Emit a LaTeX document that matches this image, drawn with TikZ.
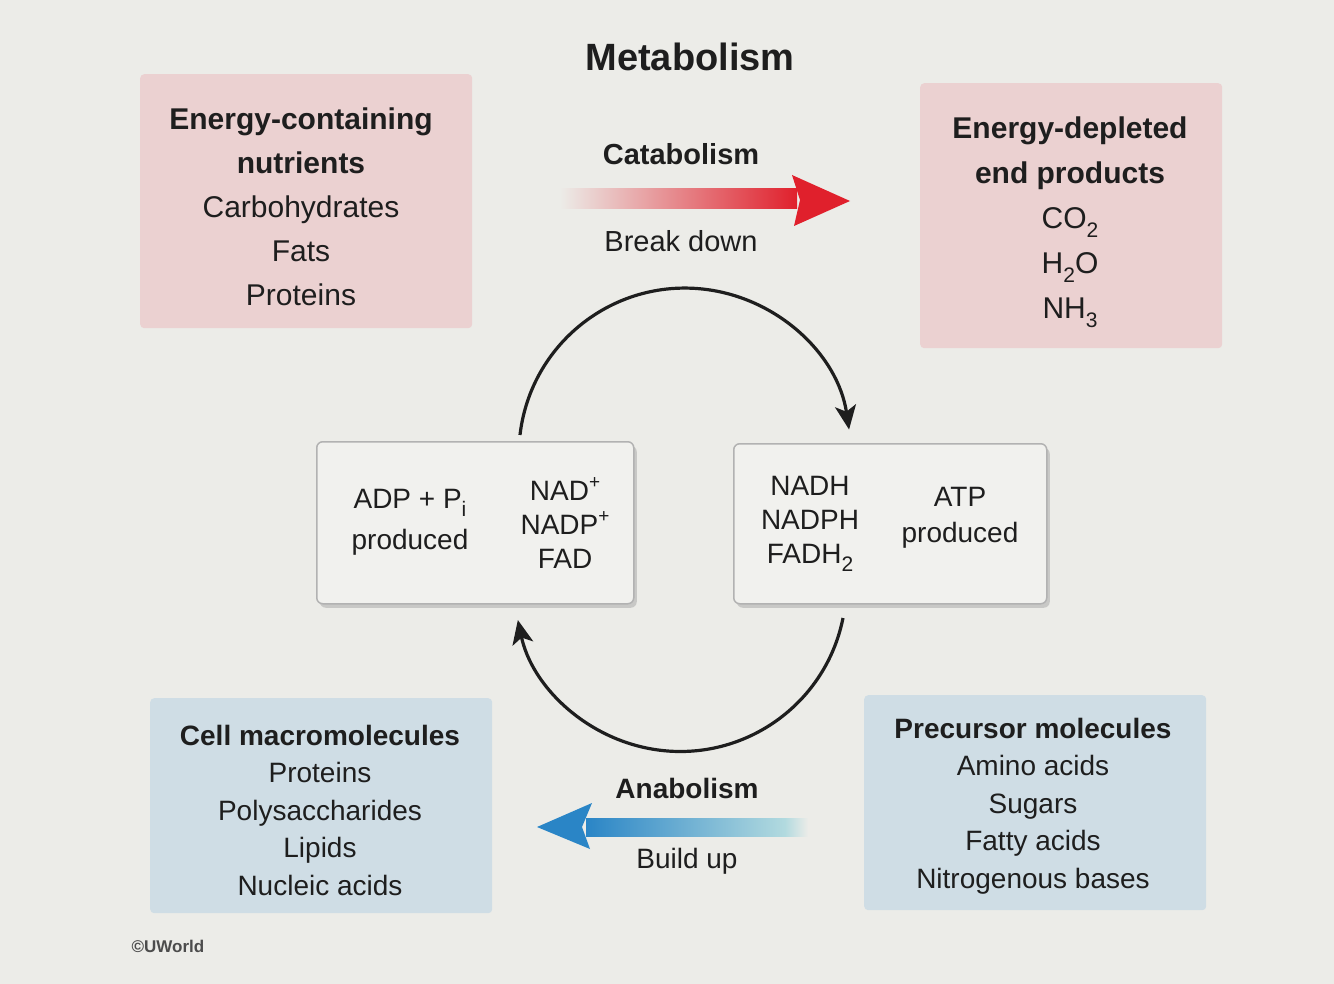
\documentclass[tikz,border=0pt]{standalone}
\usepackage{fontspec}
\setmainfont{Liberation Sans}
\usetikzlibrary{shadows,arrows.meta}
\definecolor{bg}{HTML}{ECECE8}
\definecolor{pinkbox}{HTML}{EBD1D1}
\definecolor{bluebox}{HTML}{CFDDE5}
\definecolor{midbox}{HTML}{F1F1EE}
\definecolor{myred}{HTML}{E0202C}
\definecolor{myblue}{HTML}{2A85C6}
\definecolor{lightcyan}{HTML}{B2DADF}
\definecolor{txt}{HTML}{1E1E1E}
\newcommand\mysub[1]{\raisebox{-0.3em}{\fontsize{21}{21}\selectfont #1}}
\newcommand\mysup[1]{\raisebox{0.42em}{\fontsize{19}{19}\selectfont #1}}
\tikzset{
  colbox/.style={rounded corners=4pt, inner sep=0pt, anchor=north west},
  pinkstyle/.style={colbox, fill=pinkbox},
  bluestyle/.style={colbox, fill=bluebox},
  cyclebox/.style={rounded corners=6pt, fill=midbox, draw=black!30, line width=1.5pt,
    anchor=north west, inner sep=0pt,
    drop shadow={shadow xshift=3pt, shadow yshift=-4pt, fill=black!35, opacity=0.5}},
  bigtxt/.style={text=txt, align=center, font=\fontsize{30}{44}\selectfont},
  midtxt/.style={text=txt, align=center, font=\fontsize{28}{37.5}\selectfont},
  cyc/.style={line width=3.2pt, draw=txt, -{Stealth[length=24pt,width=21pt,inset=6pt]}},
}
\begin{document}
\begin{tikzpicture}[x=1pt,y=1pt]
\fill[bg] (0,0) rectangle (1334,-984);
\useasboundingbox (0,0) rectangle (1334,-984);

% title
\node[text=txt, font=\fontsize{38}{44}\selectfont\bfseries] (title) at (690,-57) {Metabolism};

% top boxes
\node[pinkstyle, minimum width=332pt, minimum height=254pt] (nutr) at (140,-74) {};
\node[bigtxt] (nutrtxt) at (301,-207) {\textbf{Energy-containing}\\\textbf{nutrients}\\Carbohydrates\\Fats\\Proteins};

\node[pinkstyle, minimum width=302pt, minimum height=265pt] (endp) at (920,-83) {};
\node[bigtxt, font=\fontsize{30}{45}\selectfont] (endptxt) at (1070,-222) {\textbf{Energy-depleted}\\\textbf{end products}\\CO\mysub{2}\\H\mysub{2}O\\NH\mysub{3}};

% bottom boxes
\node[bluestyle, minimum width=342pt, minimum height=215pt] (cell) at (150,-698) {};
\node[midtxt] (celltxt) at (320,-810) {\textbf{Cell macromolecules}\\Proteins\\Polysaccharides\\Lipids\\Nucleic acids};

\node[bluestyle, minimum width=342pt, minimum height=215pt] (prec) at (864,-695) {};
\node[midtxt] (prectxt) at (1033,-806) {\textbf{Precursor molecules}\\Amino acids\\Sugars\\Fatty acids\\Nitrogenous bases};

% middle boxes
\node[cyclebox, minimum width=317pt, minimum height=162pt] (leftbox) at (316,-441) {};
\node[midtxt, font=\fontsize{28}{41}\selectfont] (adp) at (410,-522) {ADP + P\mysub{i}\\produced};
\node[midtxt, font=\fontsize{28}{34}\selectfont] (nad) at (565,-523) {NAD\mysup{+}\\NADP\mysup{+}\\FAD};

\node[cyclebox, minimum width=313pt, minimum height=160pt] (rightbox) at (733,-443) {};
\node[midtxt, font=\fontsize{28}{34}\selectfont] (nadh) at (810,-524) {NADH\\NADPH\\FADH\mysub{2}};
\node[midtxt, font=\fontsize{28}{36}\selectfont] (atp) at (960,-518) {ATP\\produced};

% catabolism arrow
\node[text=txt, font=\fontsize{29}{34}\selectfont\bfseries] (cata) at (681,-154) {Catabolism};
\node[text=txt, font=\fontsize{29}{34}\selectfont] (brk) at (681,-241) {Break down};
\coordinate (redstart) at (560,-199);
\coordinate (redtip) at (850,-201);
\shade[left color=bg, right color=myred] (560,-189) rectangle (797,-209);
\fill[myred] (792,-175) -- (redtip) -- (794,-226) -- (800,-200) -- cycle;

% anabolism arrow
\node[text=txt, font=\fontsize{28}{34}\selectfont\bfseries] (ana) at (687,-788) {Anabolism};
\node[text=txt, font=\fontsize{28}{34}\selectfont] (bld) at (687,-861) {Build up};
\coordinate (bluetip) at (537,-827);
\shade[left color=myblue, right color=lightcyan] (586,-818) rectangle (785,-836);
\shade[left color=lightcyan, right color=bg] (785,-818) rectangle (808,-836);
\fill[myblue] (592,-803) -- (bluetip) -- (590,-849) -- (582,-827) -- cycle;

% cycle arcs
\coordinate (topstart) at (520,-435);
\draw[cyc] (topstart) arc[start angle=173.4, end angle=8.5, radius=166];
\coordinate (botstart) at (843,-618);
\draw[cyc] (botstart) arc[start angle=-11.3, end angle=-168, radius=166];

% credit
\node[text=black!70, font=\fontsize{17}{20}\selectfont\bfseries, inner sep=0pt] (credit) at (168,-946) {©UWorld};
\end{tikzpicture}
\end{document}
